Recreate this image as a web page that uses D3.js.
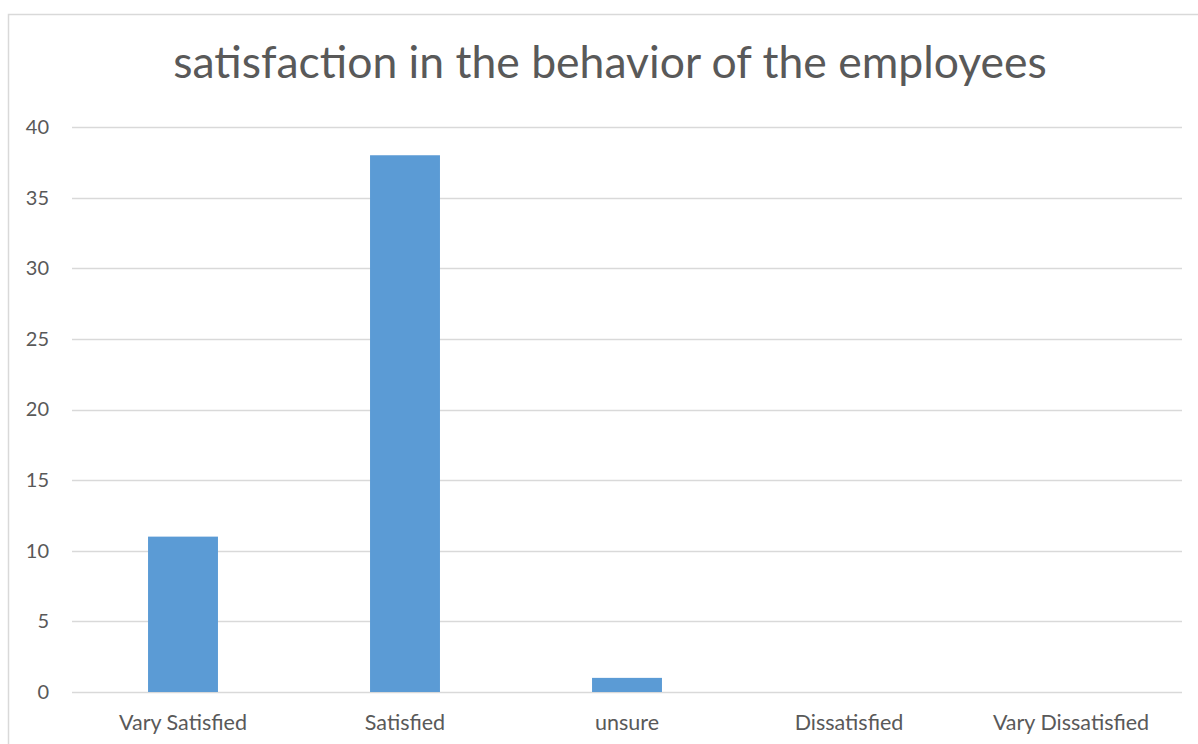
<!DOCTYPE html>
<html>
<head>
<meta charset="utf-8">
<script src="https://cdn.jsdelivr.net/npm/d3@7"></script>
<style>
  html, body { margin: 0; padding: 0; background: #fff; }
  svg { display: block; font-family: Lato, "Open Sans", sans-serif; }
</style>
</head>
<body>
<svg id="chart" width="1198" height="744"></svg>
<script>
// Responses per satisfaction level
const categories = ["Vary Satisfied", "Satisfied", "unsure", "Dissatisfied", "Vary Dissatisfied"];
const counts = [11, 38, 1, 0, 0];
const yTicks = [0, 5, 10, 15, 20, 25, 30, 35, 40];
const title = "satisfaction in the behavior of the employees";

const svg = d3.select("#chart");
const textColor = "#595959";
const gridColor = "#d9d9d9";
const barColor = "#5b9bd5";
const fontFamily = "Lato, 'Open Sans', sans-serif";

// Outer chart frame (extends past the right and bottom edges)
svg.append("rect")
  .attr("x", 8.5).attr("y", 14.5)
  .attr("width", 1210).attr("height", 760)
  .attr("fill", "#fff")
  .attr("stroke", gridColor)
  .attr("stroke-width", 1.5);

const plot = { left: 72, right: 1182, top: 127, bottom: 692 };

const x = d3.scaleBand()
  .domain(categories)
  .range([plot.left, plot.right])
  .paddingInner(0.685)
  .paddingOuter(0.3425);

const y = d3.scaleLinear()
  .domain([0, 40])
  .range([plot.bottom, plot.top]);

// Horizontal gridlines
svg.append("g")
  .selectAll("line")
  .data(yTicks)
  .join("line")
  .attr("x1", plot.left).attr("x2", plot.right)
  .attr("y1", d => Math.round(y(d)) + 0.5)
  .attr("y2", d => Math.round(y(d)) + 0.5)
  .attr("stroke", gridColor)
  .attr("stroke-width", 1.5);

// Y axis labels
const yAxis = d3.axisLeft(y).tickValues(yTicks).tickSize(0).tickPadding(0);
svg.append("g")
  .attr("transform", "translate(49,0)")
  .call(yAxis)
  .call(g => g.select(".domain").remove())
  .call(g => g.selectAll("text")
    .attr("fill", textColor)
    .style("font-family", fontFamily)
    .style("font-size", "20px"));

// Bars
svg.append("g")
  .selectAll("rect")
  .data(categories.map((c, i) => ({ c, v: counts[i] })))
  .join("rect")
  .attr("x", d => x(d.c))
  .attr("width", x.bandwidth())
  .attr("y", d => y(d.v))
  .attr("height", d => y(0) - y(d.v))
  .attr("fill", barColor);

// Category labels
const xAxis = d3.axisBottom(x).tickSize(0).tickPadding(0);
svg.append("g")
  .attr("transform", "translate(0,730)")
  .call(xAxis)
  .call(g => g.select(".domain").remove())
  .call(g => g.selectAll("text")
    .attr("fill", textColor)
    .attr("y", 0)
    .attr("dy", 0)
    .style("font-family", fontFamily)
    .style("font-size", "21.5px"));

// Title
svg.append("text")
  .attr("x", 610)
  .attr("y", 78)
  .attr("text-anchor", "middle")
  .attr("fill", textColor)
  .style("font-size", "44.5px")
  .text(title);
</script>
</body>
</html>
